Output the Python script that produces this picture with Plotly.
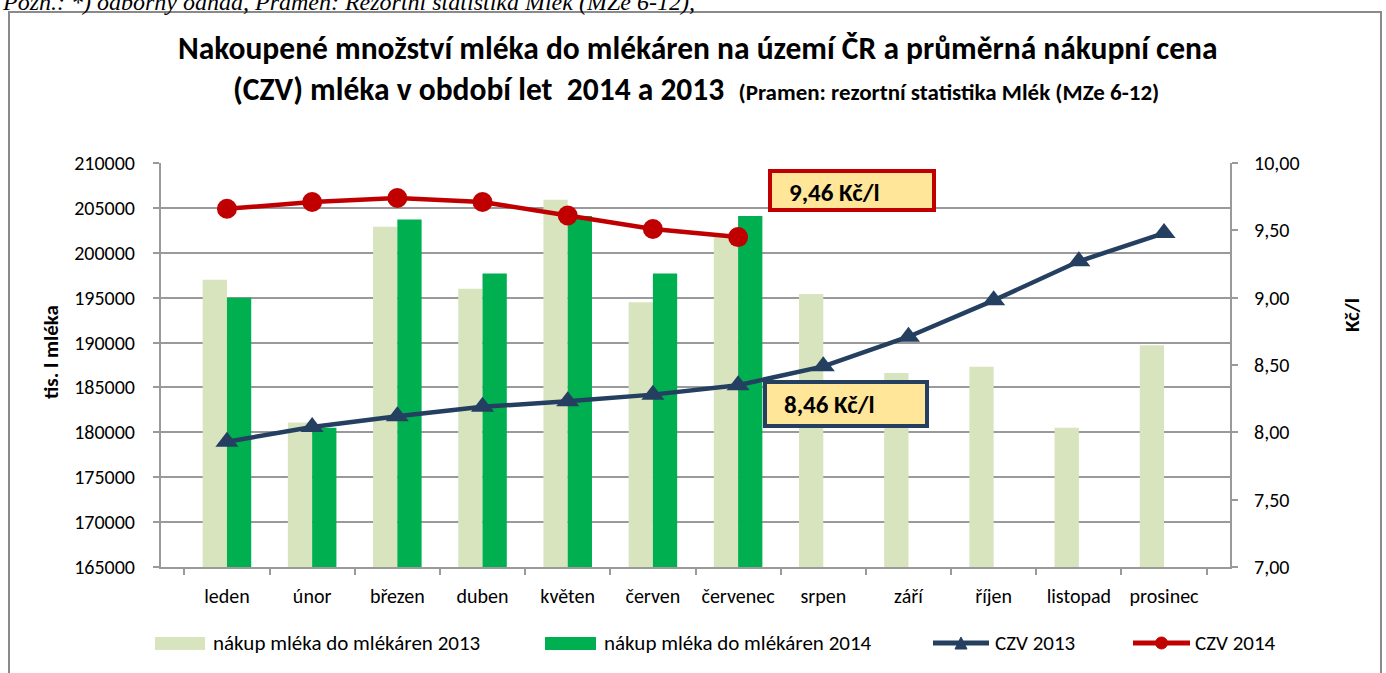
import plotly.graph_objects as go

# ---------------- data ----------------
months = ["leden", "únor", "březen", "duben", "květen", "červen", "červenec",
          "srpen", "září", "říjen", "listopad", "prosinec"]
nakup_2013 = [197000, 181100, 202900, 196000, 205900, 194500, 201800,
              195400, 186600, 187300, 180500, 189700]
nakup_2014 = [195000, 180500, 203700, 197700, 204100, 197700, 204100]
czv_2013 = [7.93, 8.04, 8.12, 8.19, 8.23, 8.28, 8.35, 8.49, 8.71, 8.98, 9.27, 9.48]
czv_2014 = [9.66, 9.71, 9.74, 9.71, 9.61, 9.51, 9.45]

series_names = ["nákup mléka do mlékáren 2013", "nákup mléka do mlékáren 2014",
                "CZV 2013", "CZV 2014"]
label_2014 = "9,46 Kč/l"
label_2013 = "8,46 Kč/l"
title_line1 = "Nakoupené množství mléka do mlékáren na území ČR a průměrná nákupní cena"
title_line2 = "(CZV) mléka v období let  2014 a 2013"
title_source = "(Pramen: rezortní statistika Mlék (MZe 6-12)"
caption = "Pozn.: *) odborný odhad, Pramen: Rezortní statistika Mlék (MZe 6-12),"

# ---------------- style ----------------
C_2013 = "#D7E4BD"
C_2014 = "#00B050"
C_NAVY = "#243F60"
C_RED = "#C00000"
C_GRID = "#9A9A9A"
C_BOX = "#FFE699"
FONT = "Carlito, Calibri, Lato, sans-serif"

W, H = 1386, 673
PL, PR, PT, PB = 161, 1230, 163, 567


def px(x):
    return (x - PL) / (PR - PL)


def py(y):
    return (PB - y) / (PB - PT)


fig = go.Figure()
fig.add_trace(go.Bar(x=months, y=nakup_2013, name=series_names[0],
                     marker=dict(color=C_2013, line_width=0), showlegend=False))
fig.add_trace(go.Bar(x=months[:len(nakup_2014)], y=nakup_2014, name=series_names[1],
                     marker=dict(color=C_2014, line_width=0), showlegend=False))
fig.add_trace(go.Scatter(x=months, y=czv_2013, name=series_names[2], yaxis="y2",
                         mode="lines+markers",
                         line=dict(color=C_NAVY, width=4.5),
                         marker=dict(symbol="triangle-up", size=20, color=C_NAVY),
                         showlegend=False))
fig.add_trace(go.Scatter(x=months[:len(czv_2014)], y=czv_2014, name=series_names[3],
                         yaxis="y2", mode="lines+markers",
                         line=dict(color=C_RED, width=4.5),
                         marker=dict(symbol="circle", size=20, color=C_RED),
                         showlegend=False))

shapes = []
annotations = []

# outer chart border
shapes.append(dict(type="rect", xref="paper", yref="paper",
                   x0=px(9), x1=px(1381), y0=py(700), y1=py(12),
                   line=dict(color="#8A8A8A", width=2), fillcolor="rgba(0,0,0,0)",
                   layer="below"))

# custom legend
lg_y = 643
for (x0, x1), col in zip([(155, 205), (545, 596)], [C_2013, C_2014]):
    shapes.append(dict(type="rect", xref="paper", yref="paper",
                       x0=px(x0), x1=px(x1), y0=py(650), y1=py(637),
                       line_width=0, fillcolor=col))
for (x0, x1), col in zip([(933, 989), (1133, 1190)], [C_NAVY, C_RED]):
    shapes.append(dict(type="line", xref="paper", yref="paper",
                       x0=px(x0), x1=px(x1), y0=py(lg_y), y1=py(lg_y),
                       line=dict(color=col, width=5)))
shapes.append(dict(type="path", xref="paper", yref="paper",
                   path=f"M {px(955)},{py(649)} L {px(967)},{py(649)} L {px(961)},{py(637)} Z",
                   fillcolor=C_NAVY, line=dict(color=C_NAVY, width=1)))
shapes.append(dict(type="circle", xref="paper", yref="paper",
                   x0=px(1155.5), x1=px(1167.5), y0=py(649), y1=py(637),
                   fillcolor=C_RED, line=dict(color=C_RED, width=1)))
for xt, name in zip([211, 602, 993, 1193], series_names):
    annotations.append(dict(text=name, xref="paper", yref="paper",
                            x=px(xt), y=py(lg_y), xanchor="left", yanchor="middle",
                            showarrow=False, font=dict(family=FONT, size=21, color="#000")))

# value boxes
annotations.append(dict(text="&nbsp;&nbsp;&nbsp;" + f"<b>{label_2014}</b>", xref="paper", yref="paper",
                        x=px(852), y=py(190.5), xanchor="center", yanchor="middle",
                        width=160, height=35, align="left", valign="bottom",
                        bgcolor=C_BOX, bordercolor=C_RED, borderwidth=4, borderpad=0,
                        showarrow=False, font=dict(family=FONT, size=25, color="#000")))
annotations.append(dict(text="&nbsp;&nbsp;&nbsp;" + f"<b>{label_2013}</b>", xref="paper", yref="paper",
                        x=px(846), y=py(404), xanchor="center", yanchor="middle",
                        width=158, height=40, align="left", valign="middle",
                        bgcolor=C_BOX, bordercolor=C_NAVY, borderwidth=4, borderpad=0,
                        showarrow=False, font=dict(family=FONT, size=25, color="#000")))

# axis titles
annotations.append(dict(text="<b>tis. l mléka</b>", xref="paper", yref="paper",
                        x=px(51), y=py(352), textangle=-90, showarrow=False,
                        xanchor="center", yanchor="middle",
                        font=dict(family=FONT, size=21, color="#000")))
annotations.append(dict(text="<b>Kč/l</b>", xref="paper", yref="paper",
                        x=px(1352), y=py(315), textangle=-90, showarrow=False,
                        xanchor="center", yanchor="middle",
                        font=dict(family=FONT, size=21, color="#000")))

# title lines
annotations.append(dict(text=f"<b>{title_line1}</b>", xref="paper", yref="paper",
                        x=px(698), y=py(48), xanchor="center", yanchor="middle",
                        showarrow=False, font=dict(family=FONT, size=31.5, color="#000")))
annotations.append(dict(text=f"<b>{title_line2}</b>  <b><span style='font-size:23px'>{title_source}</span></b>",
                        xref="paper", yref="paper",
                        x=px(696), y=py(89), xanchor="center", yanchor="middle",
                        showarrow=False, font=dict(family=FONT, size=31.5, color="#000")))

# caption at top-left (partially cut off, as in the source)
annotations.append(dict(text=f"<i>{caption}</i>", xref="paper", yref="paper",
                        x=px(0), y=py(2), xanchor="left", yanchor="middle",
                        showarrow=False,
                        font=dict(family="Liberation Serif, Times New Roman, serif", size=24, color="#000")))

fig.update_layout(
    width=W, height=H,
    margin=dict(l=PL, r=W - PR, t=PT, b=H - PB, autoexpand=False),
    paper_bgcolor="white", plot_bgcolor="white",
    barmode="group", bargap=0.43, bargroupgap=0,
    separators=", ",
    font=dict(family=FONT, size=20, color="#000"),
    showlegend=False,
    xaxis=dict(type="category", categoryorder="array", categoryarray=months,
               showline=True, linecolor=C_GRID, linewidth=2,
               ticks="outside", ticklen=6, tickcolor=C_GRID, tickwidth=2,
               tickson="boundaries", showgrid=False,
               tickfont=dict(family=FONT, size=20, color="#000"),
               ticklabelstandoff=10),
    yaxis=dict(range=[165000, 210000], dtick=5000, tick0=165000, tickformat="d",
               showline=True, linecolor=C_GRID, linewidth=2,
               ticks="outside", ticklen=6, tickcolor=C_GRID, tickwidth=2,
               showgrid=True, gridcolor=C_GRID, gridwidth=1.6, zeroline=False,
               tickfont=dict(family=FONT, size=20, color="#000"),
               ticklabelstandoff=14),
    yaxis2=dict(range=[7, 10], dtick=0.5, tick0=7, tickformat=".2f",
                overlaying="y", side="right",
                showline=True, linecolor=C_GRID, linewidth=2,
                ticks="outside", ticklen=6, tickcolor=C_GRID, tickwidth=2,
                showgrid=False, zeroline=False,
                tickfont=dict(family=FONT, size=20, color="#000"),
                ticklabelstandoff=12),
    shapes=shapes,
    annotations=annotations,
)

fig.write_html("out.html", config={"displayModeBar": False},
               post_script="document.body.style.margin='0';document.body.style.overflow='hidden';")
